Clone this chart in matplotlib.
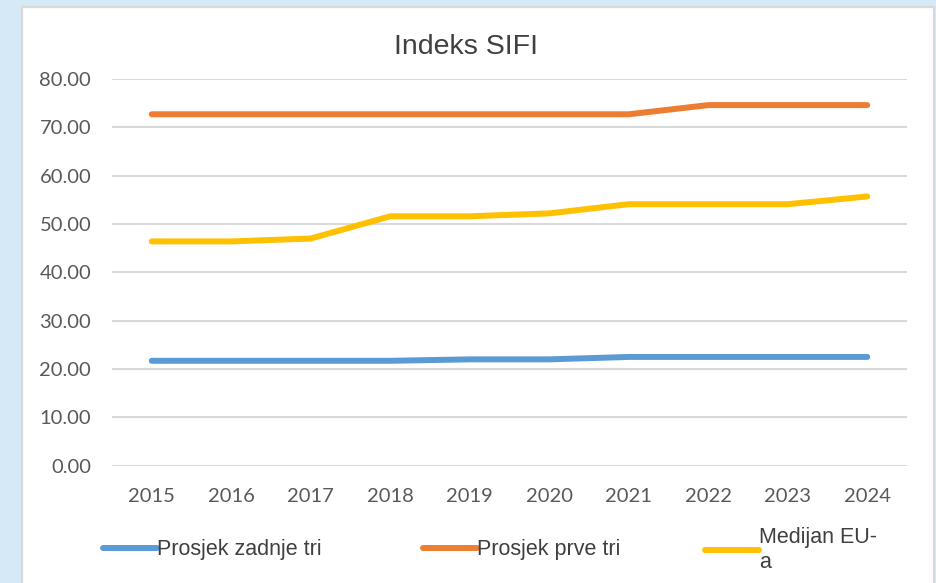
import matplotlib
matplotlib.use("Agg")
import matplotlib.pyplot as plt
from matplotlib.patches import Rectangle

years = ["2015", "2016", "2017", "2018", "2019", "2020", "2021", "2022", "2023", "2024"]
prosjek_zadnje_tri = [21.7, 21.7, 21.7, 21.7, 22.0, 22.0, 22.5, 22.5, 22.5, 22.5]
prosjek_prve_tri = [72.7, 72.7, 72.7, 72.7, 72.7, 72.7, 72.7, 74.6, 74.6, 74.6]
medijan_eu = [46.4, 46.4, 47.0, 51.6, 51.6, 52.2, 54.1, 54.1, 54.1, 55.7]
labels = ["Prosjek zadnje tri", "Prosjek prve tri", "Medijan EU-\na"]
yticks = [0, 10, 20, 30, 40, 50, 60, 70, 80]

W, H = 937, 583
fig = plt.figure(figsize=(W / 100, H / 100), dpi=100)
fig.patch.set_facecolor("#D6E9F6")

# white chart panel
panel = Rectangle((22 / W, -0.05), (934 - 22) / W, 1.05 - 7 / H,
                  transform=fig.transFigure, facecolor="white",
                  edgecolor="#D9D9D9", linewidth=1.6, zorder=-1)
fig.patches.append(panel)

ax = fig.add_axes([112 / W, 1 - 465.7 / H, (907 - 112) / W, (465.7 - 79) / H])
ax.set_facecolor("none")
ax.set_zorder(2)

x = list(range(len(years)))
colors = ["#5B9BD5", "#ED7D31", "#FFC000"]
series = [prosjek_zadnje_tri, prosjek_prve_tri, medijan_eu]
handles = []
for s, c in zip(series, colors):
    ln, = ax.plot(x, s, color=c, linewidth=4.3, solid_capstyle="round",
                  solid_joinstyle="round", zorder=3)
    handles.append(ln)

ax.set_xlim(-0.5, len(years) - 0.5)
ax.set_ylim(0, 80)
ax.set_yticks(yticks)
ax.set_yticklabels([f"{v:.2f}" for v in yticks])
ax.set_xticks(x)
ax.set_xticklabels(years)
ax.grid(axis="y", color="#D9D9D9", linewidth=1.5)
ax.set_axisbelow(True)
for sp in ax.spines.values():
    sp.set_visible(False)
ax.tick_params(axis="both", length=0, colors="#595959", labelsize=14.5)
ax.tick_params(axis="y", pad=15)
ax.tick_params(axis="x", pad=16)
for t in ax.get_xticklabels() + ax.get_yticklabels():
    t.set_family(["Lato", "DejaVu Sans"])

fig.text(466 / W, 1 - 47 / H, "Indeks SIFI", ha="center", va="center",
         fontsize=20.5, color="#404040", family=["Liberation Sans", "DejaVu Sans"])

# legend entries
leg_x = [103, 423, 705]
for h, lab, lx in zip(handles, labels, leg_x):
    lg = fig.legend([h], [lab], loc="center left",
                    bbox_to_anchor=(lx / W, 1 - 550 / H),
                    frameon=False, handlelength=2.5, handletextpad=0.0,
                    borderaxespad=0, borderpad=0,
                    prop={"family": ["Liberation Sans", "DejaVu Sans"], "size": 15.5})
    for t in lg.get_texts():
        t.set_color("#404040")

fig.savefig("out.png", dpi=100, facecolor=fig.get_facecolor())
